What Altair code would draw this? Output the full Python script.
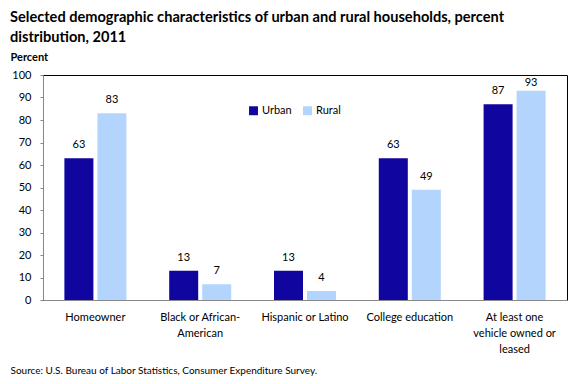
import altair as alt
import pandas as pd

categories = ["Homeowner", "Black or African-|American", "Hispanic or Latino",
              "College education", "At least one|vehicle owned or|leased"]
urban = [63, 13, 13, 63, 87]
rural = [83, 7, 4, 49, 93]
series = ["Urban", "Rural"]
colors = ["#10069F", "#B3D4FC"]
y_ticks = [0, 10, 20, 30, 40, 50, 60, 70, 80, 90, 100]

rows = []
for c, u, r in zip(categories, urban, rural):
    rows.append({"cat": c, "series": "Urban", "value": u})
    rows.append({"cat": c, "series": "Rural", "value": r})
df = pd.DataFrame(rows)

FONT = "Lato"

y_axis = alt.Axis(values=y_ticks, grid=False, labelOverlap=False,
                  title="Percent", titleAngle=0, titleX=-33, titleY=-18,
                  titleAlign="left", titleBaseline="middle",
                  titleFont=FONT, titleFontSize=11, titleFontWeight="bold",
                  titleColor="black",
                  labelFont=FONT, labelFontSize=11, labelColor="black",
                  labelPadding=9, tickSize=3, tickColor="#888888",
                  domainColor="#888888", zindex=1)

x_enc = alt.X("cat:N", sort=categories,
              scale=alt.Scale(paddingInner=0, paddingOuter=0),
              axis=alt.Axis(title="Source: U.S. Bureau of Labor Statistics, Consumer Expenditure Survey.",
                            titleX=-33, titleY=70, titleAlign="left", titleBaseline="middle",
                            titleFontWeight="normal", titleFontSize=10, titleFont=FONT,
                            titleColor="black",
                            labelAngle=0, labelExpr="split(datum.label, '|')",
                            labelFont=FONT, labelFontSize=11, labelColor="black",
                            labelLineHeight=16, labelPadding=11,
                            ticks=False, domainColor="#888888", zindex=1))
xo_enc = alt.XOffset("series:N", sort=series,
                     scale=alt.Scale(paddingInner=0.121, paddingOuter=0.648))
y_scale = alt.Scale(domain=[0, 100])

bars = alt.Chart(df).mark_bar().encode(
    x=x_enc,
    xOffset=xo_enc,
    y=alt.Y("value:Q", scale=y_scale, axis=y_axis),
    color=alt.Color("series:N", sort=series,
                    scale=alt.Scale(domain=series, range=colors),
                    legend=alt.Legend(title=None, orient="none", direction="horizontal",
                                      legendX=205, legendY=30, symbolType="square",
                                      symbolSize=80, symbolStrokeWidth=0,
                                      labelFont=FONT, labelFontSize=11,
                                      columnPadding=10, labelOffset=3)),
)

labels = alt.Chart(df).transform_calculate(
    label_y="min(datum.value + 5.8, 96.4)"
).mark_text(font=FONT, fontSize=11, color="black", baseline="middle").encode(
    x=x_enc,
    xOffset=xo_enc,
    y=alt.Y("label_y:Q", scale=y_scale, axis=y_axis),
    text=alt.Text("value:Q"),
)

chart = alt.layer(bars, labels).properties(
    width=524, height=225,
    autosize=alt.AutoSizeParams(type="none"),
    padding={"left": 35, "top": 67, "right": 5, "bottom": 80},
    title=alt.Title(["Selected demographic characteristics of urban and rural households, percent",
                     "distribution, 2011"],
                    anchor="start", frame="group", dx=-33, offset=6,
                    font=FONT, fontSize=14.6, fontWeight="bold", lineHeight=20, color="black"),
).configure_view(stroke="black", strokeWidth=1)

chart.save("out.html", embed_options={"renderer": "svg", "actions": False})
